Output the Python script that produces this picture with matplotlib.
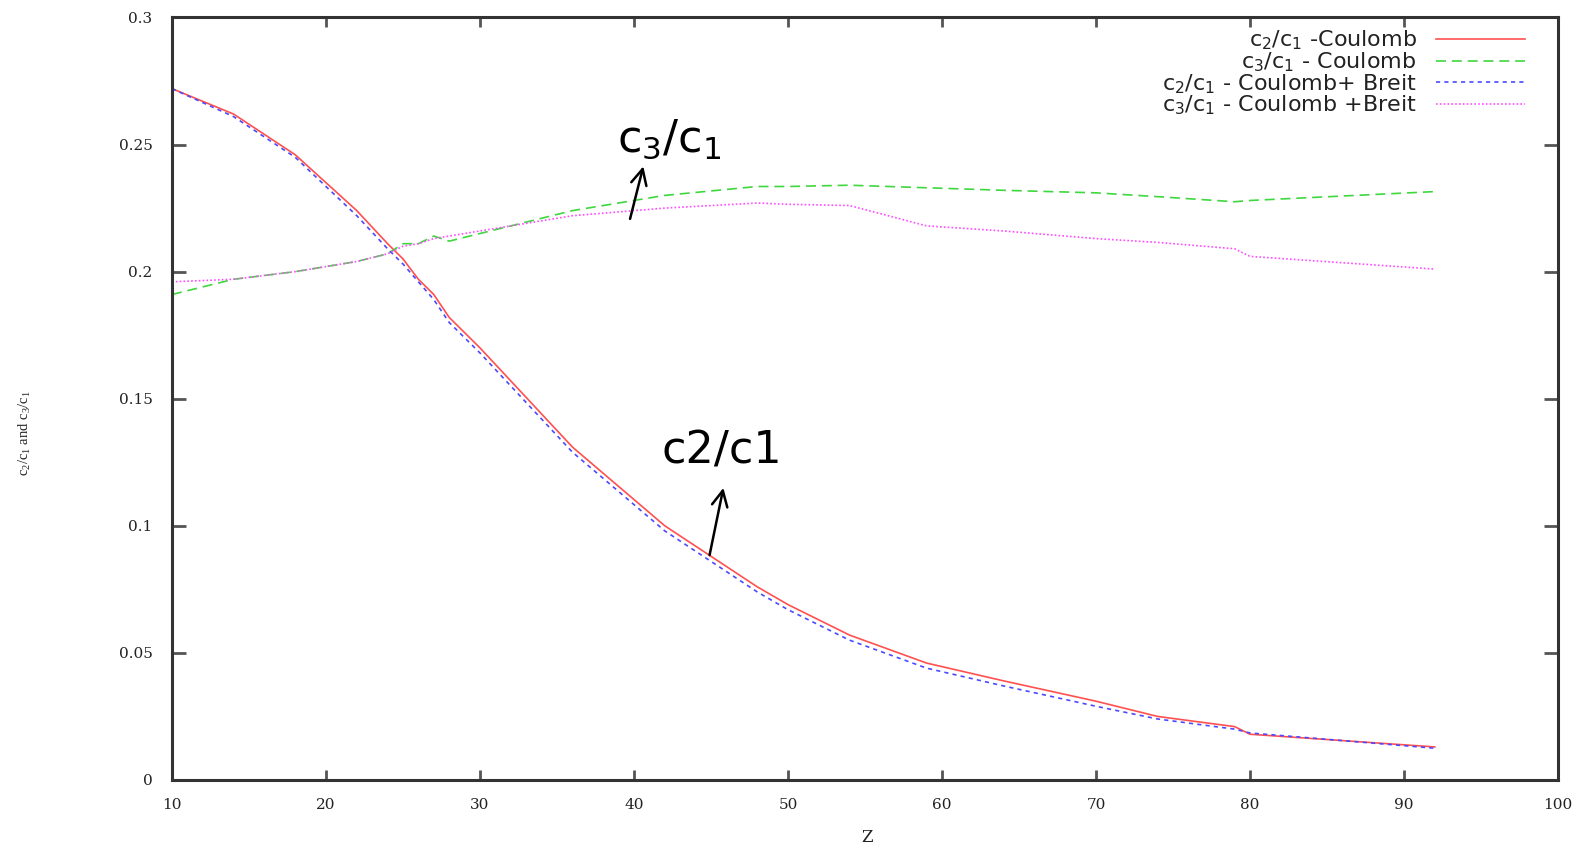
import matplotlib
matplotlib.use('Agg')
import matplotlib.pyplot as plt
from matplotlib.ticker import FormatStrFormatter

z = [10, 14, 18, 22, 24, 25, 26, 27, 28, 30, 36, 42, 48, 50, 54, 59, 64, 70, 74, 79, 80, 92]

c2_coulomb = [0.272, 0.262, 0.246, 0.224, 0.211, 0.205, 0.197, 0.191, 0.182, 0.170, 0.131,
              0.100, 0.076, 0.069, 0.057, 0.046, 0.039, 0.031, 0.025, 0.021, 0.018, 0.013]
c3_coulomb = [0.191, 0.197, 0.200, 0.204, 0.207, 0.211, 0.211, 0.214, 0.212, 0.215, 0.224,
              0.230, 0.2335, 0.2335, 0.234, 0.233, 0.232, 0.231, 0.2295, 0.2275, 0.228, 0.2315]
c2_breit = [0.272, 0.261, 0.245, 0.222, 0.209, 0.203, 0.196, 0.189, 0.180, 0.168, 0.129,
            0.098, 0.074, 0.067, 0.055, 0.044, 0.037, 0.029, 0.024, 0.020, 0.0185, 0.0125]
c3_breit = [0.196, 0.197, 0.200, 0.204, 0.207, 0.210, 0.211, 0.213, 0.214, 0.216, 0.222,
            0.225, 0.227, 0.2265, 0.226, 0.218, 0.216, 0.213, 0.2115, 0.209, 0.206, 0.201]

labels = ['c$_2$/c$_1$ -Coulomb', 'c$_3$/c$_1$ - Coulomb ',
          'c$_2$/c$_1$ - Coulomb+ Breit ', 'c$_3$/c$_1$ - Coulomb +Breit']

x_ticks = [10, 20, 30, 40, 50, 60, 70, 80, 90, 100]
y_ticks = [0, 0.05, 0.1, 0.15, 0.2, 0.25, 0.3]


def main():
    plt.rcParams['mathtext.default'] = 'regular'

    fig = plt.figure(figsize=(15.85, 8.48), dpi=100)
    ax = fig.add_axes([0.1085, 0.0802, 0.8745, 0.8992])

    ax.plot(z, c2_coulomb, color='#ff5050', linewidth=1.2, label=labels[0])
    ax.plot(z, c3_coulomb, color='#3ed83e', linewidth=1.2, dashes=(6, 3.5), label=labels[1])
    ax.plot(z, c2_breit, color='#4a4aff', linewidth=1.2, dashes=(2.5, 2.5), label=labels[2])
    ax.plot(z, c3_breit, color='#ff4cff', linewidth=1.2, dashes=(1.0, 1.3), label=labels[3])

    ax.set_xlim(10, 100)
    ax.set_ylim(0, 0.3)
    ax.set_xticks(x_ticks)
    ax.set_yticks(y_ticks)
    ax.yaxis.set_major_formatter(FormatStrFormatter('%g'))

    for side in ax.spines:
        ax.spines[side].set_linewidth(2.2)
        ax.spines[side].set_color('#333333')

    ax.tick_params(axis='both', direction='in', top=True, right=True, width=2.0, color='#555555',
                   labelcolor='#222222')
    ax.tick_params(axis='x', length=7, pad=13)
    ax.tick_params(axis='y', length=10, pad=14)
    for lab in ax.get_xticklabels() + ax.get_yticklabels():
        lab.set_family('DejaVu Serif')
        lab.set_fontsize(11)

    ax.set_xlabel('Z', family='DejaVu Serif', fontsize=12, color='#222222')
    ax.xaxis.set_label_coords(0.5015, -0.064)
    ax.set_ylabel('c$_2$/c$_1$ and c$_3$/c$_1$', family='Liberation Serif', fontsize=10.5,
                  color='#222222', va='center')
    ax.yaxis.set_label_coords(-0.106, 0.455)

    leg = ax.legend(loc='upper right', bbox_to_anchor=(0.962, 0.966), bbox_transform=fig.transFigure,
                    frameon=False, markerfirst=False, borderpad=0, borderaxespad=0,
                    handlelength=4.0, handletextpad=0.85, labelspacing=-0.09,
                    prop={'family': 'DejaVu Sans', 'size': 16})
    for t in leg.get_texts():
        t.set_color('#222222')

    # annotations drawn on top of the plot
    ax.text(42.3, 0.247, 'c$_3$/c$_1$', family='DejaVu Sans', fontsize=32, ha='center', va='baseline')
    ax.annotate('', xy=(40.65, 0.2425), xytext=(39.7, 0.2197),
                arrowprops=dict(arrowstyle='->', lw=1.8, color='black', mutation_scale=28))
    ax.text(45.7, 0.1244, 'c2/c1', family='DejaVu Sans', fontsize=32, ha='center', va='baseline')
    ax.annotate('', xy=(45.84, 0.116), xytext=(44.87, 0.0874),
                arrowprops=dict(arrowstyle='->', lw=1.8, color='black', mutation_scale=28))

    fig.savefig('out.png', dpi=100)


if __name__ == "__main__":
    main()
